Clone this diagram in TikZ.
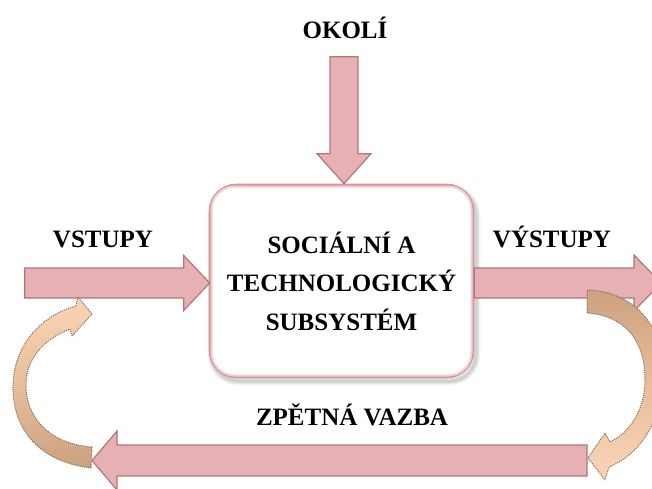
\documentclass[tikz,border=0pt]{standalone}
\usepackage{fontspec}
\setmainfont{Liberation Serif}
\usetikzlibrary{calc}

\definecolor{arrowpink}{RGB}{231,176,180}
\definecolor{arrowedge}{RGB}{176,118,122}
\definecolor{boxedge}{RGB}{214,150,156}
\definecolor{peachlight}{RGB}{250,213,182}
\definecolor{peachmid}{RGB}{232,190,155}
\definecolor{tandark}{RGB}{204,161,128}
\definecolor{dotgray}{RGB}{125,105,95}

\begin{document}
\begin{tikzpicture}[x=1pt,y=-1pt,
  blockarrow/.style={fill=arrowpink, draw=arrowedge, line width=1.2pt, line join=miter},
  curvedarrow/.style={draw=dotgray, line width=1pt, dash pattern=on 1pt off 1.1pt, line join=round},
  caption/.style={font=\bfseries\fontsize{25}{30}\selectfont, text=black, inner sep=0pt, anchor=base},
  sysbox/.style={draw=boxedge, line width=2.6pt, fill=white, rounded corners=26pt,
    minimum width=263pt, minimum height=192pt, align=center, inner sep=0pt,
    font=\bfseries\fontsize{25}{38.5}\selectfont}
]
\useasboundingbox (0,0) rectangle (652,489);
\clip (0,0) rectangle (652,489);

% soft shadow under the system box
\foreach \w/\o in {9/0.03,7/0.04,5/0.05,3/0.07}
  \draw[black, opacity=\o, line width=\w pt, rounded corners=26pt] (212,189) rectangle (476,381);

% the system
\node[sysbox] (sys) at (341.5,281)
  {SOCIÁLNÍ A\\TECHNOLOGICKÝ\\SUBSYSTÉM};
\draw[boxedge!45, line width=2pt, rounded corners=23pt]
  ($(sys.south west)+(2.8,-2.8)$) rectangle ($(sys.north east)+(-2.8,2.8)$);

% labels
\node[caption] (okoli) at (345,39) {OKOLÍ};
\node[caption] (vstupy) at (103,247) {VSTUPY};
\node[caption] (vystupy) at (552,247) {VÝSTUPY};
\node[caption] (zpetna) at (352,425) {ZPĚTNÁ VAZBA};

% surroundings -> system
\coordinate (okTip) at ($(sys.north)+(2.5,0)$);
\draw[blockarrow] ($(okTip)+(-14,-127)$) -- ($(okTip)+(14,-127)$) -- ($(okTip)+(14,-30)$)
  -- ($(okTip)+(27,-30)$) -- (okTip) -- ($(okTip)+(-27,-30)$) -- ($(okTip)+(-14,-30)$) -- cycle;

% inputs -> system
\coordinate (inTip) at ($(sys.west)+(1,2)$);
\draw[blockarrow] ($(inTip)+(-185,-15)$) -- ($(inTip)+(-26,-15)$) -- ($(inTip)+(-26,-27.5)$)
  -- (inTip) -- ($(inTip)+(-26,27.5)$) -- ($(inTip)+(-26,15)$) -- ($(inTip)+(-185,15)$) -- cycle;

% system -> outputs
\coordinate (outTail) at ($(sys.east)+(0,2)$);
\coordinate (outTip) at (661,283);
\draw[blockarrow] ($(outTail)+(0,-15)$) -- ($(outTip)+(-27,-15)$) -- ($(outTip)+(-27,-28)$)
  -- (outTip) -- ($(outTip)+(-27,28)$) -- ($(outTip)+(-27,15)$) -- ($(outTail)+(0,15)$) -- cycle;

% feedback, right to left
\coordinate (fbTail) at (587,460.5);
\coordinate (fbTip) at (92,460.5);
\draw[blockarrow] ($(fbTail)+(0,-15.5)$) -- ($(fbTip)+(25,-15.5)$) -- ($(fbTip)+(25,-29.5)$)
  -- (fbTip) -- ($(fbTip)+(25,29.5)$) -- ($(fbTip)+(25,15.5)$) -- ($(fbTail)+(0,15.5)$) -- cycle;

% curved arrow: feedback back into the inputs
\draw[curvedarrow, top color=peachlight, bottom color=tandark, middle color=peachmid]
  (92,447) -- (91,468)
  .. controls (40,462) and (12,430) .. (13,385)
  .. controls (14,350) and (35,318) .. (76,306)
  -- (78,297) -- (92,314) -- (72,336) -- (70,329)
  .. controls (42,340) and (26,360) .. (26,385)
  .. controls (26,420) and (52,444) .. (92,447) -- cycle;

% curved arrow: outputs back into the feedback
\draw[curvedarrow, top color=tandark, bottom color=peachlight, middle color=peachmid]
  (587,313) -- (587,290)
  .. controls (630,291) and (663,322) .. (663,370)
  .. controls (663,415) and (645,452) .. (609,467)
  -- (605,480) -- (588,458) -- (605,433) -- (610,442)
  .. controls (630,432) and (645,410) .. (645,380)
  .. controls (645,340) and (625,316) .. (587,313) -- cycle;
\end{tikzpicture}
\end{document}
